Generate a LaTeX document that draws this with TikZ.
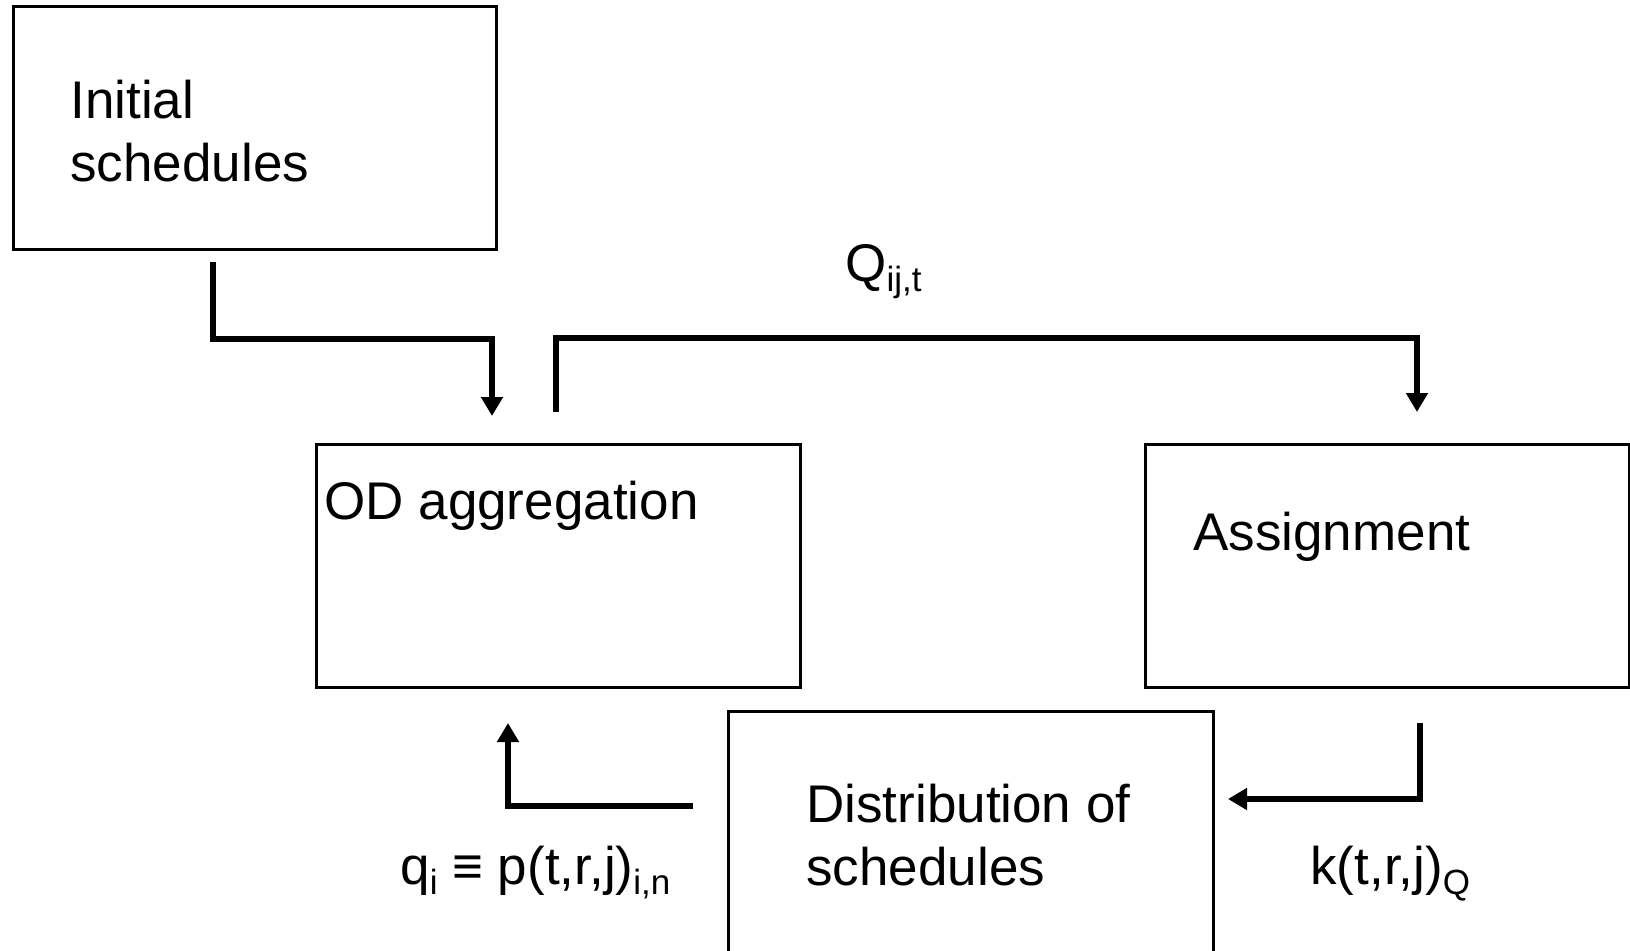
\documentclass[tikz,border=0pt]{standalone}
\usepackage{fontspec}
\setmainfont{Liberation Sans}
\usetikzlibrary{arrows.meta}
\newcommand\lowsub[1]{\raisebox{-0.2em}{\fontsize{17.5}{17.5}\selectfont #1}}
\begin{document}
\begin{tikzpicture}[x=0.5pt, y=-0.5pt, line join=miter,
		box/.style={draw, line width=1.3pt, inner sep=0pt, anchor=north west, minimum width=241.5pt, minimum height=121.5pt},
		txt/.style={anchor=base west, inner sep=0pt, align=left, font=\fontsize{26.5}{31.5}\selectfont},
		flow/.style={line width=2.6pt, -{Triangle[width=10.5pt, length=9.5pt]}}]
	\useasboundingbox (0,0) rectangle (1630,950);
	\node[box] (init) at (12,5) {};
	\node[box, minimum width=242pt] (odagg) at (315,443) {};
	\node[box, minimum width=242pt] (assign) at (1144,443) {};
	\node[box, minimum width=242.5pt, minimum height=125pt] (distr) at (727,710) {};
	\node[txt] (initTxt) at (70,181) {Initial\\schedules};
	\node[txt] (odaggTxt) at (324,519) {OD aggregation};
	\node[txt] (assignTxt) at (1193,550) {Assignment};
	\node[txt] (distrTxt) at (806,885) {Distribution of\\schedules};
	\node[txt] (qij) at (845,281) {Q\lowsub{ij,t}};
	\node[txt] (qi) at (400,884) {q\lowsub{i} ≡ p(t,r,j)\lowsub{i,n}};
	\node[txt] (kq) at (1310,884) {k(t,r,j)\lowsub{Q}};
	\coordinate (a1s) at (213,262);
	\coordinate (a1e) at (492,416);
	\coordinate (a2s) at (556,412);
	\coordinate (a2e) at (1417,412);
	\coordinate (a3s) at (693,806);
	\coordinate (a3e) at (508,723);
	\coordinate (a4s) at (1420,723);
	\coordinate (a4e) at (1228,799);
	\draw[flow] (a1s) -- ++(0,77) -| (a1e);
	\draw[flow] (a2s) -- ++(0,-74) -| (a2e);
	\draw[flow] (a3s) -| (a3e);
	\draw[flow] (a4s) |- (a4e);
\end{tikzpicture}
\end{document}
